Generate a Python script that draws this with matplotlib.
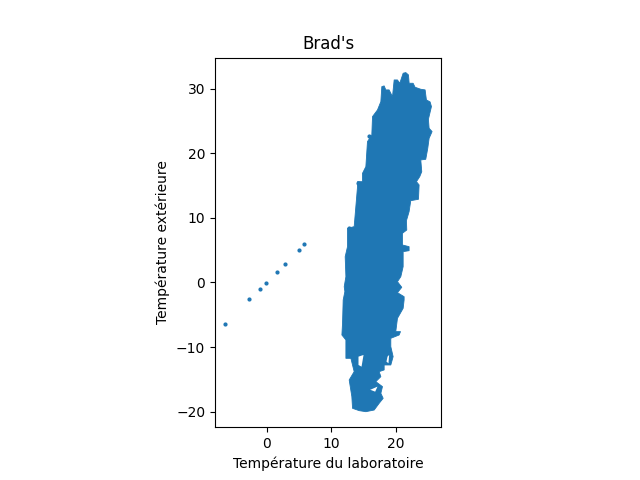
import matplotlib
matplotlib.use("Agg")
import matplotlib.pyplot as plt

# points far from the main cloud
lab_seuls = [-6.49, -2.78, -1.08, -0.15, 1.55, 2.79, 4.95, 5.72, 15.87, 14.22, 12.68]
ext_seuls = [-6.48, -2.61, -1.06, -0.13, 1.57, 2.81, 4.98, 5.91, 22.68, 15.45, 8.38]

# outline of the dense cloud, read clockwise from the top
lab_nuage = [21.54, 21.95, 22.06, 22.67, 22.98, 23.86, 24.53, 24.73, 25.30, 25.51, 25.04, 25.15,
             25.61, 25.15, 24.94, 24.63, 23.86, 24.01, 23.70, 23.19, 23.60, 23.50, 22.31, 22.05,
             21.64, 21.69, 21.02, 21.02, 22.05, 22.05, 21.13, 21.13, 20.77, 20.25, 20.92, 20.25,
             21.28, 21.28, 21.13, 20.25, 19.99, 20.72, 20.51, 19.22, 19.22, 19.58, 19.22, 18.19,
             18.19, 17.42, 17.68, 16.90, 17.93, 17.68, 18.04, 17.42, 16.65, 15.36, 14.33, 13.30,
             13.19, 12.78, 13.55, 13.04, 12.27, 12.27, 11.65, 11.75, 11.85, 12.11, 12.01, 12.27,
             12.16, 12.52, 12.52, 13.55, 13.81, 14.07, 14.07, 14.84, 14.84, 15.36, 15.61, 16.28,
             16.39, 17.16, 17.68, 17.83, 18.19, 18.45, 18.96, 19.48, 19.74, 20.25, 20.61, 21.13]
ext_nuage = [32.48, 32.12, 30.83, 30.83, 30.21, 29.90, 29.80, 28.25, 27.94, 27.22, 25.26, 23.86,
             23.35, 22.31, 20.77, 19.06, 18.96, 17.15, 16.38, 15.60, 15.09, 12.87, 12.66, 10.96,
             9.57, 8.12, 7.61, 5.80, 5.54, 4.92, 4.77, 2.45, 0.90, 0.12, -0.75, -1.58,
             -2.20, -2.71, -4.00, -5.55, -7.61, -7.61, -8.13, -8.64, -9.93, -11.48, -12.77, -12.77,
             -13.54, -13.80, -14.58, -15.35, -16.12, -17.16, -17.93, -18.70, -19.74, -20.00, -19.84, -19.48,
             -17.67, -15.09, -13.80, -11.74, -11.74, -8.90, -8.13, -6.32, -2.71, -1.42, -0.65, 0.90,
             3.99, 5.54, 8.38, 8.64, 11.73, 14.83, 15.60, 15.60, 16.89, 17.93, 21.80, 22.83,
             25.67, 26.70, 27.99, 30.31, 30.42, 29.80, 29.80, 28.76, 31.34, 31.34, 30.83, 32.38]

# small gaps inside the cloud
lab_trous = [[14.22, 15.00, 14.69, 14.22], [15.98, 17.16, 16.80, 16.13], [18.71, 18.96, 18.86, 18.55]]
ext_trous = [[-11.48, -11.22, -13.03, -12.77], [-16.64, -16.12, -16.90, -16.64], [-11.48, -11.22, -12.51, -12.25]]

fig, ax = plt.subplots()
ax.fill(lab_nuage, ext_nuage, color="C0", linewidth=0.6, joinstyle="round")
for lx, ly in zip(lab_trous, ext_trous):
    ax.fill(lx, ly, color="white", linewidth=0)
ax.scatter(lab_seuls, ext_seuls, s=4)

ax.set_xlim(-8.0, 27.0)
ax.set_ylim(-22.4, 34.8)
ax.set_aspect("equal")
ax.set_xticks([0, 10, 20])
ax.set_yticks([-20, -10, 0, 10, 20, 30])
ax.set_xlabel("Température du laboratoire")
ax.set_ylabel("Température extérieure")
ax.set_title("Brad's")

plt.savefig("out.png", dpi=100)
